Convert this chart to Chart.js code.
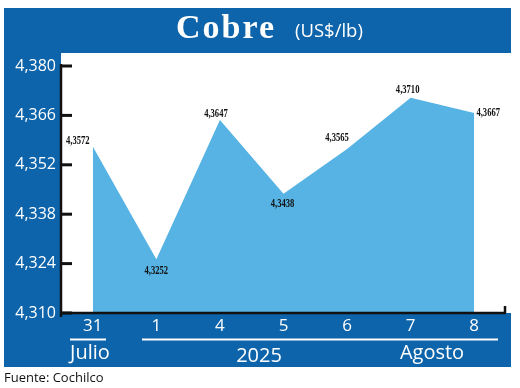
<!DOCTYPE html>
<html>
<head>
<meta charset="utf-8">
<script src="https://cdn.jsdelivr.net/npm/chart.js@4"></script>
<style>
  html, body { margin: 0; padding: 0; background: #fff; }
  canvas { display: block; }
</style>
</head>
<body>
<canvas id="c" width="520" height="388"></canvas>
<script>
// ---- data ----
const days = ['31', '1', '4', '5', '6', '7', '8'];
const prices = [4.3572, 4.3252, 4.3647, 4.3438, 4.3565, 4.3710, 4.3667];
const priceLabels = ['4,3572', '4,3252', '4,3647', '4,3438', '4,3565', '4,3710', '4,3667'];
const yTickValues = [4.310, 4.324, 4.338, 4.352, 4.366, 4.380];
const yTickLabels = ['4,310', '4,324', '4,338', '4,352', '4,366', '4,380'];
const monthLabels = ['Julio', '2025', 'Agosto'];
const titleText = 'Cobre';
const unitText = '(US$/lb)';
const sourceText = 'Fuente: Cochilco';

// ---- styles / positions ----
const FRAME = '#0d64aa';
const FILL = '#56b3e3';
const labelOffsets = [[-15, -6], [0, 11], [-4, -6], [-1, 10], [-10, -11], [-3, -8], [14, 0]];

const decor = {
  id: 'decor',
  beforeDraw(chart) {
    const ctx = chart.ctx;
    ctx.save();
    ctx.fillStyle = '#fff';
    ctx.fillRect(0, 0, chart.width, chart.height);
    ctx.fillStyle = FRAME;
    ctx.fillRect(4, 8, 507, 359);
    ctx.fillStyle = '#fff';
    ctx.fillRect(61, 53, 450, 260);
    // title
    ctx.fillStyle = '#fff';
    ctx.textBaseline = 'alphabetic';
    ctx.textAlign = 'left';
    ctx.font = 'bold 34px "Liberation Serif"';
    if ('letterSpacing' in ctx) ctx.letterSpacing = '2px';
    ctx.fillText(titleText, 176, 38);
    if ('letterSpacing' in ctx) ctx.letterSpacing = '0px';
    ctx.font = '18.5px "Open Sans"';
    ctx.fillText(unitText, 295, 37);
    // source
    ctx.fillStyle = '#111';
    ctx.font = '13px "Open Sans"';
    ctx.fillText(sourceText, 4, 382);
    ctx.restore();
  },
  afterDraw(chart) {
    const ctx = chart.ctx;
    const a = chart.chartArea;
    const xs = chart.scales.x, ys = chart.scales.y;
    ctx.save();
    // axes
    ctx.strokeStyle = '#111';
    ctx.lineWidth = 2.5;
    ctx.beginPath();
    ctx.moveTo(a.left, a.top - 2);
    ctx.lineTo(a.left, a.bottom + 4);
    ctx.moveTo(a.left, a.bottom);
    ctx.lineTo(a.right, a.bottom);
    ctx.moveTo(a.right - 1, a.bottom);
    ctx.lineTo(a.right - 1, a.bottom - 7);
    ctx.stroke();
    ctx.lineWidth = 3;
    ys.ticks.forEach((t, i) => {
      const y = ys.getPixelForTick(i);
      ctx.beginPath();
      ctx.moveTo(a.left, y);
      ctx.lineTo(a.left + 11, y);
      ctx.stroke();
    });
    // data labels
    ctx.fillStyle = '#111';
    ctx.textAlign = 'center';
    ctx.textBaseline = 'middle';
    ctx.font = 'bold 13px "Liberation Serif"';
    prices.forEach((v, i) => {
      const x = xs.getPixelForValue(i) + labelOffsets[i][0];
      const y = ys.getPixelForValue(v) + labelOffsets[i][1];
      ctx.save();
      ctx.translate(x, y);
      ctx.scale(0.66, 1);
      ctx.fillText(priceLabels[i], 0, 0);
      ctx.restore();
    });
    // month / year row
    ctx.strokeStyle = '#fff';
    ctx.lineWidth = 2;
    ctx.beginPath();
    ctx.moveTo(70, 339.5); ctx.lineTo(106, 339.5);
    ctx.moveTo(142, 339.5); ctx.lineTo(498, 339.5);
    ctx.stroke();
    ctx.fillStyle = '#fff';
    ctx.font = '20px "Open Sans"';
    ctx.textBaseline = 'alphabetic';
    ctx.fillText(monthLabels[0], 90, 359);
    ctx.fillText(monthLabels[1], 259, 362);
    ctx.fillText(monthLabels[2], 432, 359);
    ctx.restore();
  }
};

new Chart(document.getElementById('c'), {
  type: 'line',
  data: {
    labels: days,
    datasets: [{
      data: prices,
      fill: 'start',
      backgroundColor: FILL,
      borderColor: FILL,
      borderWidth: 0,
      pointRadius: 0,
      tension: 0
    }]
  },
  options: {
    responsive: false,
    animation: false,
    devicePixelRatio: 1,
    layout: { padding: { left: 4, right: 14, top: 66, bottom: 0 } },
    plugins: { legend: { display: false }, tooltip: { enabled: false }, title: { display: false } },
    scales: {
      x: {
        type: 'category',
        offset: true,
        grid: { display: false, drawTicks: false },
        border: { display: false },
        ticks: { color: '#fff', font: { family: 'Open Sans', size: 17 }, padding: 3, maxRotation: 0, autoSkip: false },
        afterFit(s) { s.height = 75; }
      },
      y: {
        min: 4.310,
        max: 4.380,
        grid: { display: false, drawTicks: false },
        border: { display: false },
        afterBuildTicks(s) { s.ticks = yTickValues.map(v => ({ value: v })); },
        ticks: {
          color: '#fff',
          font: { family: 'Open Sans', size: 16 },
          padding: 5,
          callback(v, i) { return yTickLabels[i]; }
        },
        afterFit(s) { s.width = 57; }
      }
    }
  },
  plugins: [decor]
});
</script>
</body>
</html>
